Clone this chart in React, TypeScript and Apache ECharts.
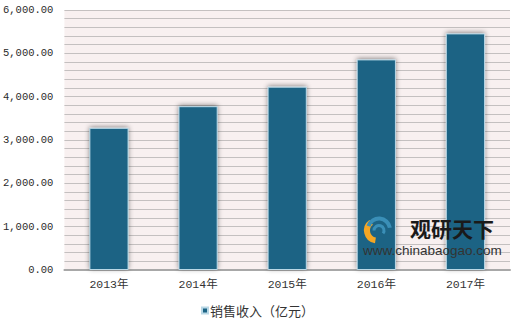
import React, { useEffect, useRef } from "react";
import * as echarts from "echarts";

const categories = ["2013年", "2014年", "2015年", "2016年", "2017年"];
const salesRevenue = [3280, 3780, 4230, 4860, 5460];
const seriesName = "销售收入（亿元）";
const yMax = 6000;
const yInterval = 1000;

export default function App() {
  const ref = useRef<HTMLDivElement>(null);
  useEffect(() => {
    document.body.style.margin = "0";
    if (!ref.current) return;
    const chart = echarts.init(ref.current, undefined, { renderer: "svg" });
    chart.setOption({
      animation: false,
      backgroundColor: "#ffffff",
      grid: {
        left: 59,
        right: 10,
        top: 10,
        bottom: 61,
        show: true,
        backgroundColor: "#f8f0f0",
        borderWidth: 0,
      },
      legend: {
        bottom: 9,
        left: 196,
        itemWidth: 6,
        itemHeight: 6,
        itemGap: 4,
        icon: "rect",
        textStyle: {
          fontSize: 13,
          color: "#333",
          fontFamily: "Noto Sans CJK SC",
          padding: [0, 0, 0, -3],
        },
        data: [seriesName],
      },
      xAxis: {
        type: "category",
        data: categories,
        axisLine: { show: true, lineStyle: { color: "#a8a8a8", width: 2 } },
        axisTick: { show: false },
        axisLabel: {
          color: "#333",
          fontSize: 11.5,
          margin: 9,
          fontFamily: "Liberation Mono, Noto Sans CJK SC",
        },
      },
      yAxis: {
        type: "value",
        min: 0,
        max: yMax,
        interval: yInterval,
        axisLine: { show: false },
        axisTick: { show: false },
        axisLabel: {
          color: "#2a2a2a",
          fontSize: 10.5,
          margin: 11,
          fontFamily: "Liberation Mono",
          formatter: (v: number) =>
            v.toLocaleString("en-US", { minimumFractionDigits: 2, maximumFractionDigits: 2 }),
        },
        splitLine: { show: true, lineStyle: { color: "#c4c0c0", width: 1.2 } },
        minorTick: { show: false, splitNumber: 5 },
        minorSplitLine: { show: true, lineStyle: { color: "#c4c0c0", width: 1.2 } },
      },
      series: [
        {
          name: seriesName,
          type: "bar",
          data: salesRevenue,
          barWidth: "44%",
          itemStyle: {
            color: "#1b6384",
            borderColor: "#b9d8e6",
            borderWidth: 1,
            shadowBlur: 5,
            shadowColor: "rgba(0,0,0,0.45)",
            shadowOffsetX: 0,
            shadowOffsetY: -1,
          },
        },
      ],
      graphic: [
        {
          type: "group",
          left: 364,
          top: 216,
          z: 100,
          children: [
            {
              type: "arc",
              z: 100,
              shape: { cx: 16, cy: 13, r: 10, startAngle: Math.PI * 0.55, endAngle: Math.PI * 1.3 },
              style: { stroke: "#f5a623", lineWidth: 6, fill: null },
            },
            {
              type: "arc",
              z: 100,
              shape: { cx: 18, cy: 12, r: 11, startAngle: Math.PI * 1.1, endAngle: Math.PI * 1.95 },
              style: { stroke: "#3a8fb7", lineWidth: 4, fill: null },
            },
            {
              type: "arc",
              z: 100,
              shape: { cx: 18, cy: 13, r: 5, startAngle: Math.PI * 1.0, endAngle: Math.PI * 2.2 },
              style: { stroke: "#3a8fb7", lineWidth: 3, fill: null },
            },
          ],
        },
        {
          type: "text",
          left: 410,
          top: 217,
          z: 100,
          style: {
            text: "观研天下",
            fontSize: 21,
            fontWeight: "bold",
            fill: "#1a1a1a",
            fontFamily: "Noto Sans CJK SC",
          },
        },
        {
          type: "text",
          left: 363,
          top: 243,
          z: 100,
          style: {
            text: "www.chinabaogao.com",
            fontSize: 13.5,
            fill: "#333",
            fontFamily: "Liberation Sans",
          },
        },
      ],
    });
    return () => chart.dispose();
  }, []);
  return <div ref={ref} style={{ width: 520, height: 331 }} />;
}
